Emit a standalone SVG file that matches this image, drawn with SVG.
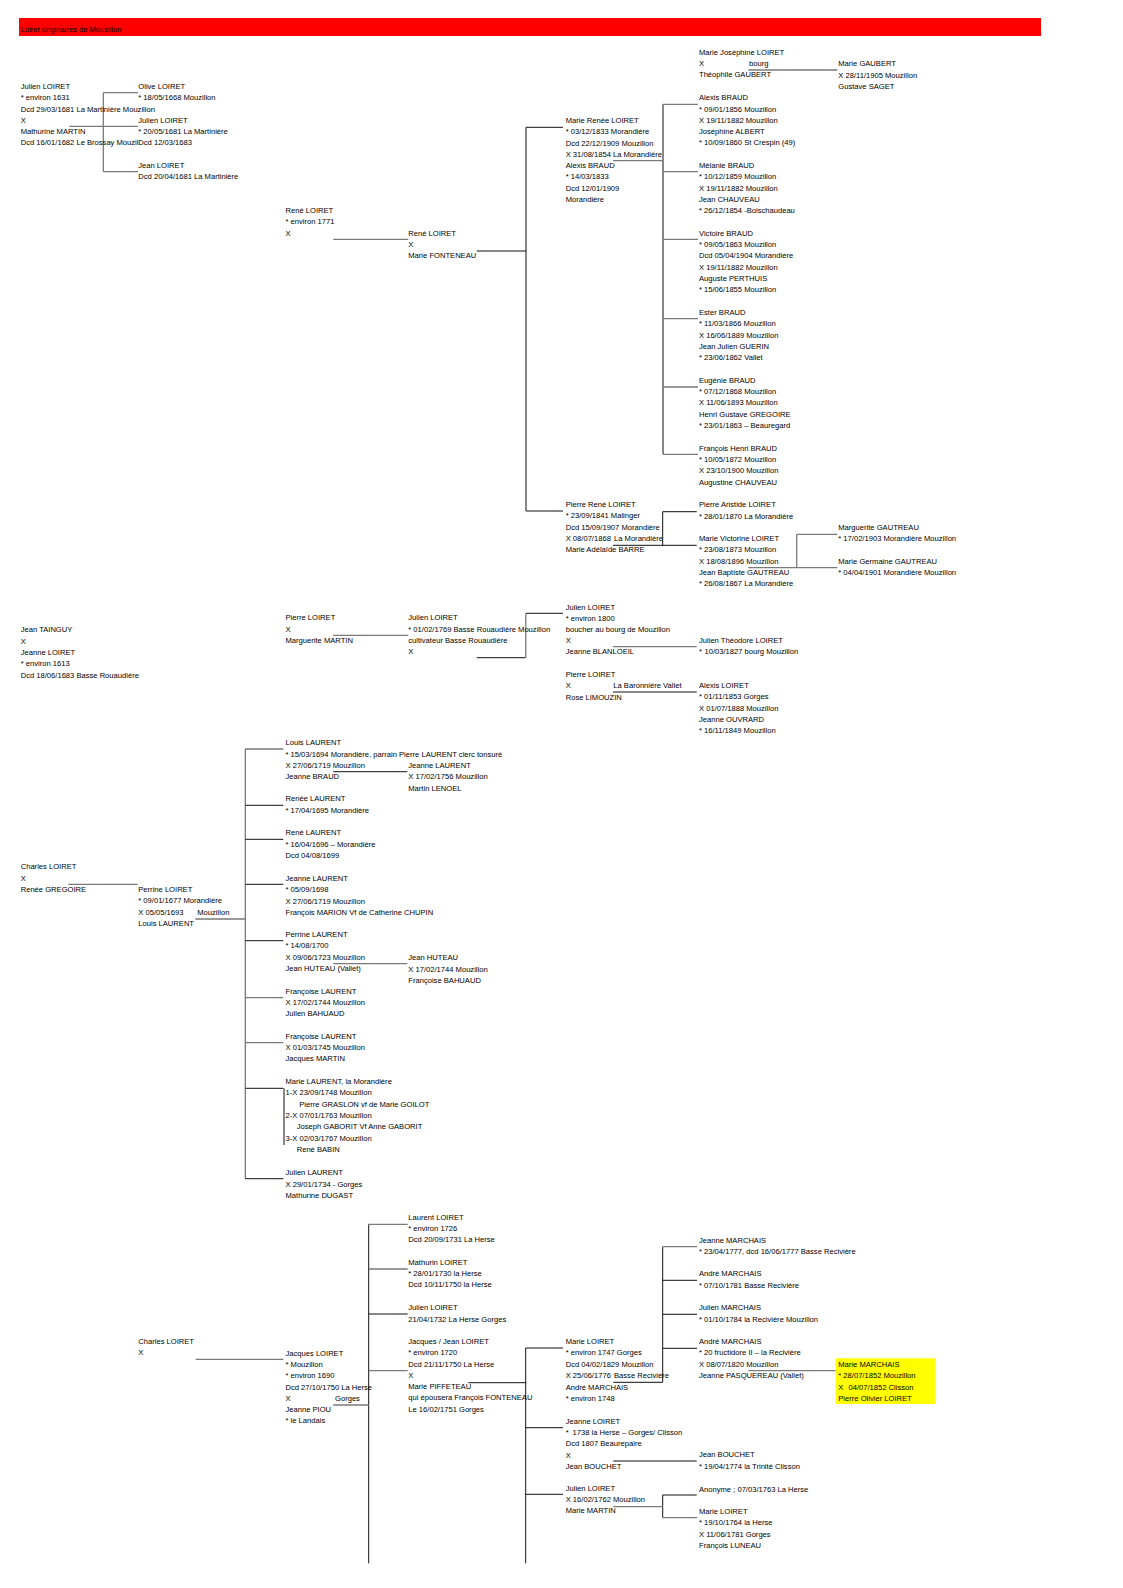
<svg xmlns="http://www.w3.org/2000/svg" width="1123" height="1588" viewBox="0 0 1123 1588">
<style>
text{font-family:"Liberation Sans",Arial,sans-serif;font-size:7.6px;fill:#000}
.k{stroke:#111;stroke-width:1;fill:none}
.g{stroke:#7a7a7a;stroke-width:1.3;fill:none}
</style>
<rect x="0" y="0" width="1123" height="1588" fill="#fff"/>
<g id="title"><rect x="19" y="18" width="1022" height="18" fill="#ff0000"/><text x="20.7" y="31.5">Loiret originaires de Mouzillon</text></g>

<g id="connectors">
<path class="g" d="M103.3 92.7V171.7M103.3 92.7H138M69.3 126.3H138M103.3 171.7H138"/>
<path class="g" d="M333.3 239.3H408.3"/>
<path class="k" d="M476.7 251H526M526 127.3V511M526 127.3H563M526 511H563"/>
<path class="g" d="M748.3 70H837.3"/>
<path class="k" d="M663 104.3V454.3"/>
<path class="g" d="M663 104.3H698M663 171.7H698M613 160.7H663M663 239.3H698M663 318.7H698M663 387H698M663 454.3H698"/>
<path class="k" d="M613 545.3H696.7M662.7 511.7V545.3M662.7 511.7H696.7"/>
<path class="g" d="M748.3 567.7H837.3M796.7 534.3V567.7M796.7 534.3H837.3"/>
<path class="k" d="M525.8 613.3H563M613 692H696.7M476.7 657.7H525.8"/>
<path class="g" d="M613 646.7H696.7M333 635.3H408.3M525.8 613.3V657.7"/>
<path class="g" d="M245.3 749V1178.7M245.3 749H283.3M68.3 884.3H137.7M195.3 919H245.3M333.3 963.7H407.3M245.3 997.7H283.3M245.3 1042.7H283.3"/>
<path class="k" d="M245.3 805.3H283.3M245.3 839.3H283.3M245.3 884.3H283.3M333.3 771.7H407.3M245.3 940.7H283.3M245.3 1088.3H283.3M284 1088.3V1145M245.3 1178.7H283.3"/>
<path class="k" d="M368.7 1224.3V1563.3M368.7 1314H407.7M468.3 1382.7H525.7M525.7 1348V1563.3M525.7 1348H563"/>
<path class="g" d="M368.7 1224.3H407.7M368.7 1269H407.7M368.7 1370.7H407.7M195.7 1359.3H283.3M333.3 1405H368.7"/>
<path class="k" d="M662.7 1246.7V1382.3M613.3 1382.3H662.7M662.7 1280.3H697M662.7 1314.3H697M662.7 1348.3H697"/>
<path class="g" d="M662.7 1246.7H697M748.3 1370.7H837.3"/>
<path class="k" d="M525.7 1427.7H563M613.3 1461H696.7M525.7 1494.3H563M662.7 1495V1517.7M662.7 1495H696.7"/>
<path class="g" d="M613.3 1506.7H662.7M662.7 1517.7H697"/>
</g>

<g id="n-julien1631"><text x="20.7" y="89"><tspan x="20.7">Julien LOIRET</tspan><tspan x="20.7" dy="11.25">* environ 1631</tspan><tspan x="20.7" dy="11.25">Dcd 29/03/1681 La Martinière Mouzillon</tspan><tspan x="20.7" dy="11.25">X</tspan><tspan x="20.7" dy="11.25">Mathurine MARTIN</tspan><tspan x="20.7" dy="11.25">Dcd 16/01/1682 Le Brossay Mouzil</tspan></text></g>
<g id="n-olive"><text x="138.3" y="89"><tspan x="138.3">Olive LOIRET</tspan><tspan x="138.3" dy="11.25">* 18/05/1668 Mouzillon</tspan></text></g>
<g id="n-julien1681"><text x="138.3" y="122.75"><tspan x="138.3">Julien LOIRET</tspan><tspan x="138.3" dy="11.25">* 20/05/1681 La Martinière</tspan><tspan x="138.3" dy="11.25">Dcd 12/03/1683</tspan></text></g>
<g id="n-jean1681"><text x="138.3" y="168"><tspan x="138.3">Jean LOIRET</tspan><tspan x="138.3" dy="11.25">Dcd 20/04/1681 La Martinière</tspan></text></g>

<g id="n-rene1771"><text x="285.5" y="213"><tspan x="285.5">René LOIRET</tspan><tspan x="285.5" dy="11.25">* environ 1771</tspan><tspan x="285.5" dy="11.25">X</tspan></text></g>
<g id="n-rene"><text x="408.3" y="235.6"><tspan x="408.3">René LOIRET</tspan><tspan x="408.3" dy="11.25">X</tspan><tspan x="408.3" dy="11.25">Marie FONTENEAU</tspan></text></g>

<g id="n-mariejosephine"><text x="699" y="55.3"><tspan x="699">Marie Joséphine LOIRET</tspan><tspan x="699" dy="11">X </tspan><tspan x="749">bourg</tspan><tspan x="699" dy="11">Théophile GAUBERT</tspan></text></g>
<g id="n-mariegaubert"><text x="838.3" y="66.3"><tspan x="838.3">Marie GAUBERT</tspan><tspan x="838.3" dy="11.2">X 28/11/1905 Mouzillon</tspan><tspan x="838.3" dy="11.2">Gustave SAGET</tspan></text></g>

<g id="n-marierenee"><text x="565.7" y="123"><tspan x="565.7">Marie Renée LOIRET</tspan><tspan x="565.7" dy="11.25">* 03/12/1833 Morandière</tspan><tspan x="565.7" dy="11.25">Dcd 22/12/1909 Mouzillon</tspan><tspan x="565.7" dy="11.25">X 31/08/1854 La Morandière</tspan><tspan x="565.7" dy="11.25">Alexis BRAUD</tspan><tspan x="565.7" dy="11.25">* 14/03/1833</tspan><tspan x="565.7" dy="11.25">Dcd 12/01/1909</tspan><tspan x="565.7" dy="11.25">Morandière</tspan></text></g>
<g id="n-alexisbraud"><text x="699" y="100.3"><tspan x="699">Alexis BRAUD</tspan><tspan x="699" dy="11.2">* 09/01/1856 Mouzillon</tspan><tspan x="699" dy="11.2">X 19/11/1882 Mouzillon</tspan><tspan x="699" dy="11.2">Joséphine ALBERT</tspan><tspan x="699" dy="11.2">* 10/09/1860 St Crespin (49)</tspan></text></g>
<g id="n-melanie"><text x="699" y="168.3"><tspan x="699">Mélanie BRAUD</tspan><tspan x="699" dy="11.1">* 10/12/1859 Mouzillon</tspan><tspan x="699" dy="11.1">X 19/11/1882 Mouzillon</tspan><tspan x="699" dy="11.1">Jean CHAUVEAU</tspan><tspan x="699" dy="11.1">* 26/12/1854 -Boischaudeau</tspan></text></g>
<g id="n-victoire"><text x="699" y="235.7"><tspan x="699">Victoire BRAUD</tspan><tspan x="699" dy="11.3">* 09/05/1863 Mouzillon</tspan><tspan x="699" dy="11.3">Dcd 05/04/1904 Morandière</tspan><tspan x="699" dy="11.3">X 19/11/1882 Mouzillon</tspan><tspan x="699" dy="11.3">Auguste PERTHUIS</tspan><tspan x="699" dy="11.3">* 15/06/1855 Mouzillon</tspan></text></g>
<g id="n-ester"><text x="699" y="315"><tspan x="699">Ester BRAUD</tspan><tspan x="699" dy="11.3">* 11/03/1866 Mouzillon</tspan><tspan x="699" dy="11.3">X 16/06/1889 Mouzillon</tspan><tspan x="699" dy="11.3">Jean Julien GUERIN</tspan><tspan x="699" dy="11.3">* 23/06/1862 Vallet</tspan></text></g>
<g id="n-eugenie"><text x="699" y="382.7"><tspan x="699">Eugénie BRAUD</tspan><tspan x="699" dy="11.3">* 07/12/1868 Mouzillon</tspan><tspan x="699" dy="11.3">X 11/06/1893 Mouzillon</tspan><tspan x="699" dy="11.3">Henri Gustave GREGOIRE</tspan><tspan x="699" dy="11.3">* 23/01/1863 – Beauregard</tspan></text></g>
<g id="n-francoishenri"><text x="699" y="450.7"><tspan x="699">François Henri BRAUD</tspan><tspan x="699" dy="11.3">* 10/05/1872 Mouzillon</tspan><tspan x="699" dy="11.3">X 23/10/1900 Mouzillon</tspan><tspan x="699" dy="11.3">Augustine CHAUVEAU</tspan></text></g>

<g id="n-pierrerene"><text x="565.7" y="507"><tspan x="565.7">Pierre René LOIRET</tspan><tspan x="565.7" dy="11.35">* 23/09/1841 Malinger</tspan><tspan x="565.7" dy="11.35">Dcd 15/09/1907 Morandière</tspan><tspan x="565.7" dy="11.35">X 08/07/1868 </tspan><tspan x="614">La Morandière</tspan><tspan x="565.7" dy="11.35">Marie Adélaïde BARRE</tspan></text></g>
<g id="n-pierrearistide"><text x="699" y="507"><tspan x="699">Pierre Aristide LOIRET</tspan><tspan x="699" dy="11.5">* 28/01/1870 La Morandière</tspan></text></g>
<g id="n-marievictorine"><text x="699" y="541"><tspan x="699">Marie Victorine LOIRET</tspan><tspan x="699" dy="11.3">* 23/08/1873 Mouzillon</tspan><tspan x="699" dy="11.3">X 18/08/1896 Mouzillon</tspan><tspan x="699" dy="11.3">Jean Baptiste GAUTREAU</tspan><tspan x="699" dy="11.3">* 26/08/1867 La Morandière</tspan></text></g>
<g id="n-marguerite"><text x="838.3" y="529.7"><tspan x="838.3">Marguerite GAUTREAU</tspan><tspan x="838.3" dy="11.5">* 17/02/1903 Morandière Mouzillon</tspan></text></g>
<g id="n-mariegermaine"><text x="838.3" y="564"><tspan x="838.3">Marie Germaine GAUTREAU</tspan><tspan x="838.3" dy="11.2">* 04/04/1901 Morandière Mouzillon</tspan></text></g>

<g id="n-julien1800"><text x="565.7" y="609.7"><tspan x="565.7">Julien LOIRET</tspan><tspan x="565.7" dy="11.1">* environ 1800</tspan><tspan x="565.7" dy="11.1">boucher au bourg de Mouzillon</tspan><tspan x="565.7" dy="11.1">X</tspan><tspan x="565.7" dy="11.1">Jeanne BLANLOEIL</tspan></text></g>
<g id="n-julientheodore"><text x="699" y="643"><tspan x="699">Julien Théodore LOIRET</tspan><tspan x="699" dy="11.1">* </tspan><tspan x="704.5">10/03/1827 bourg Mouzillon</tspan></text></g>
<g id="n-pierre-rose"><text x="565.7" y="677"><tspan x="565.7">Pierre LOIRET</tspan><tspan x="565.7" dy="11.2">X </tspan><tspan x="613.3">La Baronnière Vallet</tspan><tspan x="565.7" dy="11.5">Rose LIMOUZIN</tspan></text></g>
<g id="n-alexisloiret"><text x="699" y="688"><tspan x="699">Alexis LOIRET</tspan><tspan x="699" dy="11.3">* 01/11/1853 Gorges</tspan><tspan x="699" dy="11.3">X 01/07/1888 Mouzillon</tspan><tspan x="699" dy="11.3">Jeanne OUVRARD</tspan><tspan x="699" dy="11.3">* 16/11/1849 Mouzillon</tspan></text></g>

<g id="n-jeantainguy"><text x="20.7" y="632.3"><tspan x="20.7">Jean TAINGUY</tspan><tspan x="20.7" dy="11.3">X</tspan><tspan x="20.7" dy="11.3">Jeanne LOIRET</tspan><tspan x="20.7" dy="11.3">* environ 1613</tspan><tspan x="20.7" dy="11.3">Dcd 18/06/1683 Basse Rouaudière</tspan></text></g>
<g id="n-pierre-marguerite"><text x="285.5" y="620.3"><tspan x="285.5">Pierre LOIRET</tspan><tspan x="285.5" dy="11.3">X</tspan><tspan x="285.5" dy="11.3">Marguerite MARTIN</tspan></text></g>
<g id="n-julien1769"><text x="408.3" y="620.3"><tspan x="408.3">Julien LOIRET</tspan><tspan x="408.3" dy="11.3">* 01/02/1769 Basse Rouaudière Mouzillon</tspan><tspan x="408.3" dy="11.3">cultivateur Basse Rouaudière</tspan><tspan x="408.3" dy="11.3">X</tspan></text></g>

<g id="n-louislaurent"><text x="285.5" y="745.3"><tspan x="285.5">Louis LAURENT</tspan><tspan x="285.5" dy="11.2">* 15/03/1694 Morandière, parrain Pierre LAURENT clerc tonsuré</tspan><tspan x="285.5" dy="11.2">X 27/06/1719 Mouzillon</tspan><tspan x="285.5" dy="11.2">Jeanne BRAUD</tspan></text></g>
<g id="n-jeannelaurent1756"><text x="408.3" y="767.5"><tspan x="408.3">Jeanne LAURENT</tspan><tspan x="408.3" dy="11.5">X 17/02/1756 Mouzillon</tspan><tspan x="408.3" dy="11.5">Martin LENOEL</tspan></text></g>
<g id="n-reneelaurent"><text x="285.5" y="801.3"><tspan x="285.5">Renée LAURENT</tspan><tspan x="285.5" dy="11.3">* 17/04/1695 Morandière</tspan></text></g>
<g id="n-renelaurent"><text x="285.5" y="835"><tspan x="285.5">René LAURENT</tspan><tspan x="285.5" dy="11.6">* 16/04/1696 – Morandière</tspan><tspan x="285.5" dy="11.6">Dcd 04/08/1699</tspan></text></g>
<g id="n-charles1"><text x="20.7" y="869"><tspan x="20.7">Charles LOIRET</tspan><tspan x="20.7" dy="11.5">X</tspan><tspan x="20.7" dy="11.5">Renée GREGOIRE</tspan></text></g>
<g id="n-perrineloiret"><text x="138.3" y="892"><tspan x="138.3">Perrine LOIRET</tspan><tspan x="138.3" dy="11.3">* 09/01/1677 Morandière</tspan><tspan x="138.3" dy="11.3">X 05/05/1693 </tspan><tspan x="197.3">Mouzillon</tspan><tspan x="138.3" dy="11.3">Louis LAURENT</tspan></text></g>
<g id="n-jeannelaurent1698"><text x="285.5" y="880.7"><tspan x="285.5">Jeanne LAURENT</tspan><tspan x="285.5" dy="11.4">* 05/09/1698</tspan><tspan x="285.5" dy="11.4">X 27/06/1719 Mouzillon</tspan><tspan x="285.5" dy="11.4">François MARION Vf de Catherine CHUPIN</tspan></text></g>
<g id="n-perrinelaurent"><text x="285.5" y="937"><tspan x="285.5">Perrine LAURENT</tspan><tspan x="285.5" dy="11.3">* 14/08/1700</tspan><tspan x="285.5" dy="11.3">X 09/06/1723 Mouzillon</tspan><tspan x="285.5" dy="11.3">Jean HUTEAU (Vallet)</tspan></text></g>
<g id="n-jeanhuteau"><text x="408.3" y="960.3"><tspan x="408.3">Jean HUTEAU</tspan><tspan x="408.3" dy="11.2">X 17/02/1744 Mouzillon</tspan><tspan x="408.3" dy="11.2">Françoise BAHUAUD</tspan></text></g>
<g id="n-francoise1"><text x="285.5" y="993.7"><tspan x="285.5">Françoise LAURENT</tspan><tspan x="285.5" dy="11.2">X 17/02/1744 Mouzillon</tspan><tspan x="285.5" dy="11.2">Julien BAHUAUD</tspan></text></g>
<g id="n-francoise2"><text x="285.5" y="1039"><tspan x="285.5">Françoise LAURENT</tspan><tspan x="285.5" dy="11.2">X 01/03/1745 Mouzillon</tspan><tspan x="285.5" dy="11.2">Jacques MARTIN</tspan></text></g>
<g id="n-marielaurent"><text x="285.5" y="1084"><tspan x="285.5">Marie LAURENT, la Morandière</tspan><tspan x="285.5" dy="11.3">1-X 23/09/1748 Mouzillon</tspan><tspan x="299.3" dy="11.3">Pierre GRASLON vf de Marie GOILOT</tspan><tspan x="285.5" dy="11.3">2-X 07/01/1763 Mouzillon</tspan><tspan x="296.7" dy="11.3">Joseph GABORIT Vf Anne GABORIT</tspan><tspan x="285.5" dy="11.3">3-X 02/03/1767 Mouzillon</tspan><tspan x="296.7" dy="11.3">René BABIN</tspan></text></g>
<g id="n-julienlaurent"><text x="285.5" y="1175.3"><tspan x="285.5">Julien LAURENT</tspan><tspan x="285.5" dy="11.2">X 29/01/1734 - Gorges</tspan><tspan x="285.5" dy="11.2">Mathurine DUGAST</tspan></text></g>

<g id="n-laurent"><text x="408.3" y="1220"><tspan x="408.3">Laurent LOIRET</tspan><tspan x="408.3" dy="11.2">* environ 1726</tspan><tspan x="408.3" dy="11.2">Dcd 20/09/1731 La Herse</tspan></text></g>
<g id="n-mathurin"><text x="408.3" y="1265"><tspan x="408.3">Mathurin LOIRET</tspan><tspan x="408.3" dy="11.2">* 28/01/1730 la Herse</tspan><tspan x="408.3" dy="11.2">Dcd 10/11/1750 la Herse</tspan></text></g>
<g id="n-julien1732"><text x="408.3" y="1310"><tspan x="408.3">Julien LOIRET</tspan><tspan x="408.3" dy="11.5">21/04/1732 La Herse Gorges</tspan></text></g>
<g id="n-jacquesjean"><text x="408.3" y="1344"><tspan x="408.3">Jacques / Jean LOIRET</tspan><tspan x="408.3" dy="11.25">* environ 1720</tspan><tspan x="408.3" dy="11.25">Dcd 21/11/1750 La Herse</tspan><tspan x="408.3" dy="11.25">X</tspan><tspan x="408.3" dy="11.25">Marie PIFFETEAU</tspan><tspan x="408.3" dy="11.25">qui épousera François FONTENEAU</tspan><tspan x="408.3" dy="11.25">Le 16/02/1751 Gorges</tspan></text></g>
<g id="n-charles2"><text x="138.3" y="1344"><tspan x="138.3">Charles LOIRET</tspan><tspan x="138.3" dy="11.3">X</tspan></text></g>
<g id="n-jacques"><text x="285.5" y="1356"><tspan x="285.5">Jacques LOIRET</tspan><tspan x="285.5" dy="11.2">* Mouzillon</tspan><tspan x="285.5" dy="11.2">* environ 1690</tspan><tspan x="285.5" dy="11.2">Dcd 27/10/1750 La Herse</tspan><tspan x="285.5" dy="11.2">X </tspan><tspan x="335">Gorges</tspan><tspan x="285.5" dy="11.2">Jeanne PIOU</tspan><tspan x="285.5" dy="11.2">* le Landais</tspan></text></g>

<g id="n-marieloiret1747"><text x="565.7" y="1344"><tspan x="565.7">Marie LOIRET</tspan><tspan x="565.7" dy="11.4">* environ 1747 Gorges</tspan><tspan x="565.7" dy="11.4">Dcd 04/02/1829 Mouzillon</tspan><tspan x="565.7" dy="11.4">X 25/06/1776 </tspan><tspan x="614">Basse Recivière</tspan><tspan x="565.7" dy="11.4">André MARCHAIS</tspan><tspan x="565.7" dy="11.4">* environ 1748</tspan></text></g>
<g id="n-jeannemarchais"><text x="699" y="1243"><tspan x="699">Jeanne MARCHAIS</tspan><tspan x="699" dy="11.3">* 23/04/1777, dcd 16/06/1777 Basse Recivière</tspan></text></g>
<g id="n-andre1781"><text x="699" y="1276.3"><tspan x="699">André MARCHAIS</tspan><tspan x="699" dy="11.3">* 07/10/1781 Basse Recivière</tspan></text></g>
<g id="n-julienmarchais"><text x="699" y="1310.3"><tspan x="699">Julien MARCHAIS</tspan><tspan x="699" dy="11.3">* 01/10/1784 la Recivière Mouzillon</tspan></text></g>
<g id="n-andre2"><text x="699" y="1344"><tspan x="699">André MARCHAIS</tspan><tspan x="699" dy="11.4">* 20 fructidore II – la Recivière</tspan><tspan x="699" dy="11.4">X 08/07/1820 Mouzillon</tspan><tspan x="699" dy="11.4">Jeanne PASQUEREAU (Vallet)</tspan></text></g>
<g id="n-mariemarchais"><rect x="835.7" y="1358.3" width="99.3" height="45.7" fill="#ffff00"/><text x="838.3" y="1367"><tspan x="838.3">Marie MARCHAIS</tspan><tspan x="838.3" dy="11.4">* 28/07/1852 Mouzillon</tspan><tspan x="838.3" dy="11.4">X </tspan><tspan x="848.5">04/07/1852 Clisson</tspan><tspan x="838.3" dy="11.4">Pierre Olivier LOIRET</tspan></text></g>

<g id="n-jeanneloiret1738"><text x="565.7" y="1424"><tspan x="565.7">Jeanne LOIRET</tspan><tspan x="565.7" dy="11.2">* </tspan><tspan x="572.5">1738 </tspan><tspan x="591.5">la Herse – Gorges/ Clisson</tspan><tspan x="565.7" dy="11.2">Dcd 1807 Beaurepaire</tspan><tspan x="565.7" dy="11.2">X</tspan><tspan x="565.7" dy="11.2">Jean BOUCHET</tspan></text></g>
<g id="n-jeanbouchet"><text x="699" y="1457.3"><tspan x="699">Jean BOUCHET</tspan><tspan x="699" dy="11.3">* 19/04/1774 la Trinité Clisson</tspan></text></g>
<g id="n-julien1762"><text x="565.7" y="1490.7"><tspan x="565.7">Julien LOIRET</tspan><tspan x="565.7" dy="11.3">X 16/02/1762 Mouzillon</tspan><tspan x="565.7" dy="11.3">Marie MARTIN</tspan></text></g>
<g id="n-anonyme"><text x="699" y="1492">Anonyme ; 07/03/1763 La Herse</text></g>
<g id="n-marieloiret1764"><text x="699" y="1514"><tspan x="699">Marie LOIRET</tspan><tspan x="699" dy="11.25">* 19/10/1764 la Herse</tspan><tspan x="699" dy="11.25">X 11/06/1781 Gorges</tspan><tspan x="699" dy="11.25">François LUNEAU</tspan></text></g>
</svg>
